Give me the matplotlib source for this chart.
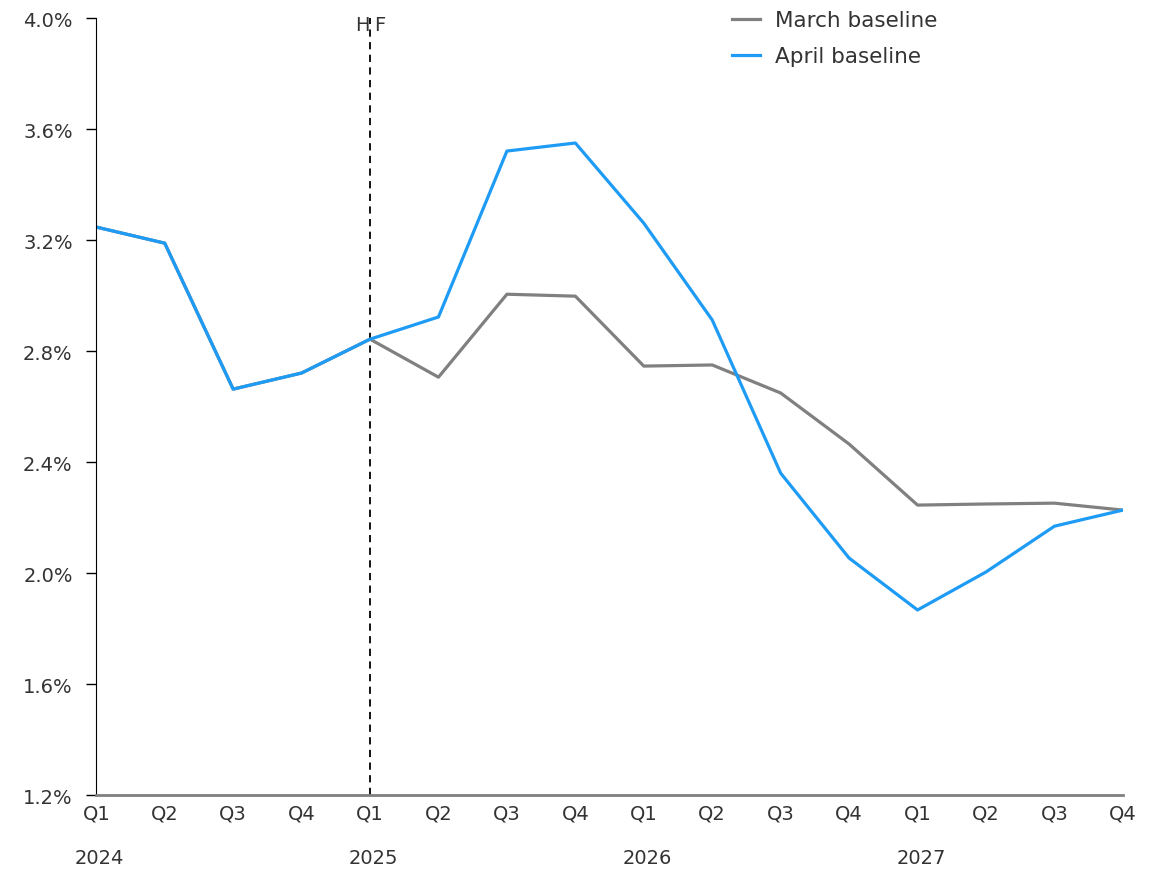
import matplotlib.pyplot as plt
from matplotlib.ticker import FuncFormatter

# quarters Q1 2024 .. Q4 2027
quarters = ["Q1", "Q2", "Q3", "Q4"] * 4
years = ["2024", "2025", "2026", "2027"]

april = [3.247, 3.189, 2.663, 2.721, 2.843, 2.923, 3.521, 3.550,
         3.261, 2.912, 2.360, 2.054, 1.867, 2.004, 2.169, 2.227]
march = [3.247, 3.189, 2.663, 2.721, 2.843, 2.706, 3.005, 2.998,
         2.746, 2.750, 2.649, 2.465, 2.245, 2.249, 2.252, 2.227]

x = list(range(len(quarters)))

fig = plt.figure(figsize=(11.6, 8.7), dpi=100)
ax = fig.add_axes([0.083, 0.085, 0.885, 0.893])

ax.plot(x, march, color="#808080", lw=2.3, label="March baseline")
ax.plot(x, april, color="#1E9BF5", lw=2.3, label="April baseline")

# history / forecast split
ax.axvline(4, color="black", lw=1.3, ls=(0, (4, 3)), zorder=1)
ax.text(3.99, 4.01, "H", ha="right", va="top", fontsize=14, color="#333333")
ax.text(4.06, 4.01, "F", ha="left", va="top", fontsize=14, color="#333333")

ax.set_xlim(0, 15)
ax.set_ylim(1.2, 4.0)
ax.set_yticks([1.2, 1.6, 2.0, 2.4, 2.8, 3.2, 3.6, 4.0])
ax.yaxis.set_major_formatter(FuncFormatter(lambda v, p: f"{v:.1f}%"))
ax.set_xticks(x)
ax.set_xticklabels(quarters)
ax.tick_params(axis="x", length=0, pad=6, labelsize=14, colors="#333333")
ax.tick_params(axis="y", length=7, width=1, direction="out", pad=10,
               labelsize=14, colors="black", labelcolor="#333333")

for i, yr in enumerate(years):
    ax.text(i * 4 + 0.05, -0.08, yr, transform=ax.get_xaxis_transform(),
            ha="center", va="center", fontsize=14, color="#333333")

ax.spines["top"].set_visible(False)
ax.spines["right"].set_visible(False)
ax.spines["left"].set_color("black")
ax.spines["bottom"].set_color("#808080")
ax.spines["bottom"].set_linewidth(2)

leg = ax.legend(loc="upper left", bbox_to_anchor=(0.6, 1.035), frameon=False,
                fontsize=15.5, handlelength=1.3, handletextpad=0.7,
                labelspacing=0.75)
for t in leg.get_texts():
    t.set_color("#333333")

plt.savefig("out.png", dpi=100)
